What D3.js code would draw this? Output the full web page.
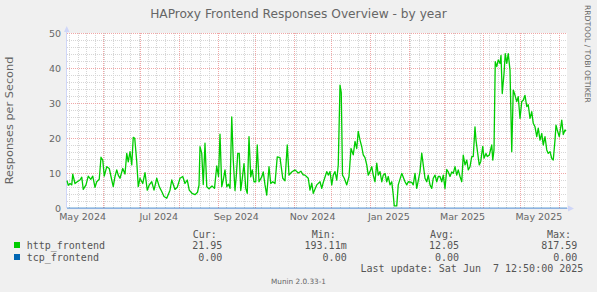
<!DOCTYPE html>
<html lang="en">
<head>
<meta charset="UTF-8">
<title>HAProxy Frontend Responses Overview - by year</title>
<style>
  body, html { margin: 0; padding: 0; background: #F0F0F0; }
  svg { display: block; }
  text { font-family: "DejaVu Sans", sans-serif; fill: #666666; }
  .mono { font-family: "DejaVu Sans Mono", monospace; font-size: 10px; fill: #555555; white-space: pre; }
</style>
</head>
<body>
<svg id="svg" width="597" height="292"></svg>

<script src="https://d3js.org/d3.v7.min.js"></script>
<script>
// last update of the rrd; a munin "by year" graph shows the 400 days before it
const endTime = new Date(2025, 5, 7, 12, 50)
const startTime = new Date(endTime.getTime() - 400 * 864e5)

// http_frontend: days after startTime -> responses/s
const httpDay = [
  0, 1, 2.4, 3.8, 4.6, 6.4, 8.2, 10.4, 11.8, 13, 15.2, 17, 19, 20.6, 22.4, 23.8, 25.8, 27.2, 28.6, 29.8,
  31.8, 33.8, 35.8, 37, 38.4, 39.8, 41, 42.4, 44.6, 46.4, 47.8, 49, 50.4, 51.8, 53, 54.2, 55.8, 57, 58.4, 60.6,
  62.4, 64.2, 65.8, 67.8, 69.6, 71.8, 73.8, 75.8, 77.6, 79.8, 82.4, 83.8, 86.4, 88.2, 90.4, 92.6, 94.4, 96.2, 97.8, 100,
  102.4, 104.4, 105.6, 106.4, 107.8, 109, 110.4, 111.8, 113.6, 116, 118, 119.8, 121.2, 122.4, 123.8, 125, 126.4, 127.8, 129.2, 130.4,
  131.8, 133, 134.4, 135.4, 136.6, 137.8, 139, 140.2, 141.6, 143, 144.2, 145.6, 147, 148.2, 149.6, 151, 152.2, 153.6, 155.8, 157,
  158.4, 159.8, 161.6, 163, 164.6, 166.4, 168.2, 170.4, 172.6, 174.4, 176.2, 177.6, 179.8, 182.4, 185, 187.2, 188.8, 190.4, 193, 194.4,
  195.8, 197, 199.8, 202.4, 203.8, 205, 207.8, 209, 210.4, 211.8, 213, 214.4, 215.8, 217, 218.4, 219.4, 220.4, 221.8, 223.8, 225.6,
  227.2, 229, 230.4, 231.8, 233, 234.4, 235.8, 237, 238.4, 239.8, 241, 242.4, 243.8, 245, 246.4, 247.8, 249, 250.4, 251.8, 253,
  254.4, 255.8, 257, 258.4, 259.8, 261, 261.8, 263.8, 265, 267.8, 270.4, 271.8, 273, 275.8, 277, 278.4, 279.8, 282.4, 283.8, 285,
  286.4, 287.8, 289, 290.4, 291.8, 293, 294.4, 295.8, 297, 298.4, 299.8, 301, 302.4, 303.8, 305, 306.4, 307.8, 309, 310.4, 311.8,
  313, 314.4, 315.8, 317, 318.4, 319.8, 321, 322.4, 323.8, 325, 326.4, 327.2, 328.2, 329.8, 331, 332.6, 333.6, 335.2, 336.2, 337.8,
  339.8, 340.6, 341.6, 342.6, 343.8, 345, 346.4, 347.2, 348.2, 349.6, 350.6, 351.8, 353, 354.4, 355.8, 357, 358.4, 359.8, 361, 362.4,
  363.8, 365, 366.4, 367.8, 369, 370.4, 371.8, 373, 374.4, 375.8, 377, 378.4, 379.8, 381, 382.4, 383.8, 385, 386.4, 387.8, 389,
  390.4, 391.2, 392.2, 393.8, 395, 395.8, 397, 398.4, 399.2
]
const httpValue = [
  7.8, 6.5, 7.0, 6.6, 9.7, 7.0, 7.5, 8.0, 8.8, 5.3, 6.6, 9.1, 8.2, 9.1, 5.9, 7.5, 8.2, 14.5, 13.7, 9.1,
  11.8, 11.3, 8.0, 6.1, 9.0, 10.9, 9.4, 8.5, 11.3, 9.7, 15.6, 13.2, 16.1, 12.3, 20.2, 19.9, 13.2, 6.1, 8.5, 7.0,
  10.1, 5.1, 6.6, 7.5, 5.1, 8.5, 6.1, 4.7, 3.3, 2.8, 5.1, 8.0, 5.3, 5.9, 8.5, 9.0, 7.0, 8.0, 5.1, 4.2,
  3.8, 4.5, 6.5, 17.5, 15.6, 6.7, 18.5, 6.1, 5.5, 6.3, 5.6, 12.0, 9.0, 21.1, 6.1, 8.0, 10.9, 6.1, 6.8, 5.6,
  26.0, 13.8, 5.0, 9.0, 15.6, 15.6, 5.0, 8.3, 12.7, 5.6, 4.2, 20.4, 8.9, 10.9, 7.5, 7.5, 18.0, 7.5, 8.9, 10.3,
  6.6, 3.7, 11.8, 7.0, 7.5, 7.0, 14.6, 14.4, 8.5, 7.8, 18.0, 9.4, 10.3, 10.9, 10.0, 10.5, 9.5, 9.4, 8.5, 5.1,
  7.1, 4.2, 6.6, 7.5, 5.6, 7.3, 10.4, 9.4, 10.4, 6.6, 9.4, 10.4, 8.0, 12.3, 35.1, 33.0, 9.4, 8.5, 6.6, 9.0,
  17.0, 15.2, 19.0, 17.0, 21.9, 19.4, 17.5, 15.2, 14.4, 12.3, 9.4, 10.4, 11.8, 9.4, 7.5, 12.8, 9.4, 10.4, 7.5, 9.4,
  9.9, 7.5, 9.0, 6.6, 7.5, 3.8, 0.6, 0.6, 6.6, 9.9, 7.5, 6.6, 7.5, 7.3, 6.6, 9.9, 5.6, 10.4, 15.7, 12.3,
  8.5, 7.5, 9.4, 6.6, 5.6, 8.5, 9.4, 7.5, 9.0, 9.0, 7.5, 9.4, 5.6, 11.0, 10.3, 9.0, 10.3, 9.9, 11.8, 9.4,
  10.9, 9.0, 7.5, 15.1, 12.3, 13.7, 10.9, 11.8, 14.7, 14.7, 23.2, 19.4, 16.6, 12.3, 13.3, 17.6, 14.2, 15.6, 14.7, 15.1,
  18.0, 13.7, 16.6, 41.8, 40.4, 42.3, 41.3, 43.6, 32.7, 38.4, 44.1, 41.3, 44.1, 39.4, 16.1, 33.7, 32.2, 30.4, 31.8, 25.6,
  30.4, 30.8, 32.2, 29.0, 29.5, 25.6, 27.5, 24.2, 23.2, 20.4, 22.8, 19.4, 21.3, 18.0, 20.4, 16.6, 15.6, 16.1, 14.2, 13.7,
  19.4, 23.7, 22.3, 20.4, 23.2, 25.1, 21.0, 22.3, 21.95
]
// tcp_frontend stays at zero all year
const tcpDay = [0, 400]
const tcpValue = [0, 0]

const yTicks = [0, 10, 20, 30, 40, 50]
const seriesNames = ['http_frontend', 'tcp_frontend']
const seriesColors = ['#00CC00', '#0066B3']
const legendHeads = ['Cur:', 'Min:', 'Avg:', 'Max:']
const curValues = ['21.95', '0.00']
const minValues = ['193.11m', '0.00']
const avgValues = ['12.05', '0.00']
const maxValues = ['817.59', '0.00']

const svg = d3.select('#svg')

const x = d3.scaleTime().domain([startTime, endTime]).range([67, 567])
const y = d3.scaleLinear().domain([0, 50]).range([208, 33])
const dayToDate = d => new Date(startTime.getTime() + d * 864e5)

// canvas
svg.append('rect')
  .attr('x', 67).attr('y', 33).attr('width', 500).attr('height', 175)
  .attr('fill', '#ffffff')

const px = v => Math.round(v) + 0.5
const grid = svg.append('g').attr('shape-rendering', 'crispEdges').attr('stroke-dasharray', '1,1')

// minor grid: every sunday and every 2 responses
grid.selectAll('.wk')
  .data(d3.timeSunday.range(startTime, endTime))
  .join('line')
  .attr('x1', d => px(x(d))).attr('x2', d => px(x(d)))
  .attr('y1', 33).attr('y2', 208)
  .attr('stroke', '#d6d6d6')
grid.selectAll('.hm')
  .data(d3.range(2, 50, 2).filter(v => v % 10 !== 0))
  .join('line')
  .attr('x1', 67).attr('x2', 567)
  .attr('y1', d => px(y(d))).attr('y2', d => px(y(d)))
  .attr('stroke', '#d6d6d6')

// major grid: month starts and every 10
grid.selectAll('.mo')
  .data(d3.timeMonth.range(startTime, endTime))
  .join('line')
  .attr('x1', d => px(x(d))).attr('x2', d => px(x(d)))
  .attr('y1', 33).attr('y2', 208)
  .attr('stroke', '#f0a6a6')
grid.selectAll('.hM')
  .data(yTicks.filter(v => v > 0))
  .join('line')
  .attr('x1', 67).attr('x2', 567)
  .attr('y1', d => px(y(d))).attr('y2', d => px(y(d)))
  .attr('stroke', '#f0a6a6')

// y tick labels
svg.selectAll('.ylab')
  .data(yTicks)
  .join('text')
  .attr('x', 61).attr('y', d => y(d) + 3.5)
  .attr('text-anchor', 'end')
  .attr('font-size', '9.5px')
  .text(d => d)

// month labels every two months, centred half a month after the month start
const fmt = d3.timeFormat('%b %Y')
const labelMonths = d3.timeMonth.every(2).range(d3.timeMonth.floor(startTime), endTime)
svg.selectAll('.xlab')
  .data(labelMonths)
  .join('text')
  .attr('x', d => x(new Date(d.getTime() + 15 * 864e5)))
  .attr('y', 219.5)
  .attr('text-anchor', 'middle')
  .attr('font-size', '9.5px')
  .text(d => fmt(d))

// axes with arrows
svg.append('line')
  .attr('x1', 66.5).attr('x2', 66.5).attr('y1', 208).attr('y2', 30)
  .attr('stroke', '#CFD6F8')
svg.append('path')
  .attr('d', 'M64,32 L69.5,32 L66.75,26 Z')
  .attr('fill', '#CFD6F8')
svg.append('line')
  .attr('x1', 67).attr('x2', 569).attr('y1', 208.5).attr('y2', 208.5)
  .attr('stroke', '#CFD6F8')
svg.append('path')
  .attr('d', 'M568,205.5 L568,211.5 L574,208.5 Z')
  .attr('fill', '#CFD6F8')

// series
const linegen = d3.line()
  .x(d => x(dayToDate(d[0])))
  .y(d => y(d[1]))

svg.append('path')
  .attr('d', linegen(d3.zip(tcpDay, tcpValue)))
  .attr('stroke', seriesColors[1])
  .attr('stroke-width', 1)
  .attr('fill', 'none')
  .attr('opacity', 0.6)

svg.append('path')
  .attr('d', linegen(d3.zip(httpDay, httpValue)))
  .attr('stroke', seriesColors[0])
  .attr('stroke-width', 1.3)
  .attr('stroke-linejoin', 'round')
  .attr('fill', 'none')

// title, unit label, watermarks
svg.append('text')
  .attr('x', 298.5).attr('y', 18)
  .attr('text-anchor', 'middle')
  .attr('font-size', '12.2px')
  .attr('fill', '#555')
  .text('HAProxy Frontend Responses Overview - by year')

svg.append('text')
  .attr('transform', 'translate(13,120.5) rotate(-90)')
  .attr('text-anchor', 'middle')
  .attr('font-size', '11.3px')
  .text('Responses per Second')

svg.append('text')
  .attr('transform', 'translate(585,5) rotate(90)')
  .attr('font-size', '7.6px')
  .attr('fill', '#c2c2c2')
  .text('RRDTOOL / TOBI OETIKER')

svg.append('text')
  .attr('x', 298.5).attr('y', 284)
  .attr('text-anchor', 'middle')
  .attr('font-size', '7.3px')
  .attr('fill', '#bdbdbd')
  .text('Munin 2.0.33-1')

// legend
const headX = [192.7, 311.7, 430, 547]
const colEnd = [222.3, 346.7, 459, 577.3]
svg.selectAll('.head')
  .data(legendHeads)
  .join('text')
  .attr('class', 'mono')
  .attr('x', (d, i) => headX[i]).attr('y', 237.5)
  .text(d => d)

const rowY = [249, 261]
seriesNames.forEach((name, r) => {
  svg.append('rect')
    .attr('x', 14).attr('y', rowY[r] - 7).attr('width', 6).attr('height', 6)
    .attr('fill', seriesColors[r])
  svg.append('text')
    .attr('class', 'mono')
    .attr('x', 26.7).attr('y', rowY[r])
    .text(name)
  const vals = [curValues[r], minValues[r], avgValues[r], maxValues[r]]
  vals.forEach((v, c) => {
    svg.append('text')
      .attr('class', 'mono')
      .attr('x', colEnd[c]).attr('y', rowY[r])
      .attr('text-anchor', 'end')
      .text(v)
  })
})

svg.append('text')
  .attr('class', 'mono')
  .attr('x', 583.3).attr('y', 272)
  .attr('text-anchor', 'end')
  .text('Last update: Sat Jun  7 12:50:00 2025')
</script>
</body>
</html>
